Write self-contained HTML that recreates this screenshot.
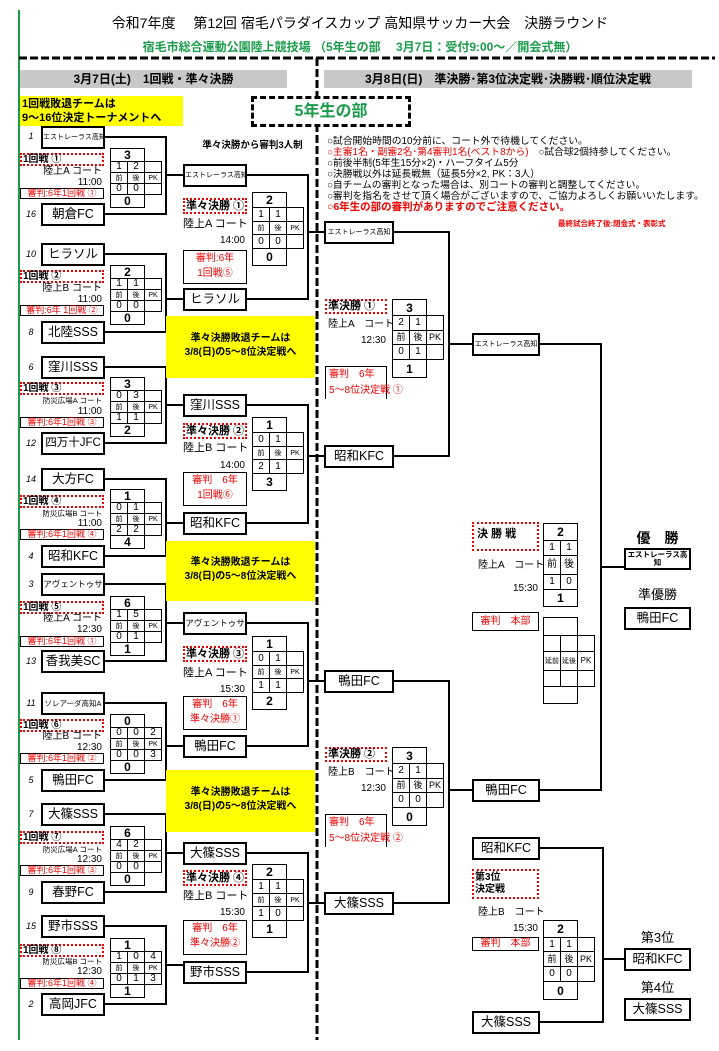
<!DOCTYPE html>
<html><head><meta charset="utf-8">
<style>
*{margin:0;padding:0;box-sizing:border-box}
body{width:719px;height:1051px;background:#fff;position:relative;overflow:hidden;font-family:"Liberation Sans","Noto Sans CJK JP",sans-serif;color:#000}
div{position:absolute}
.t{border:2px solid #000;background:#fff;text-align:center;font-size:12.5px;height:23px;line-height:19px;white-space:nowrap;overflow:hidden}
.sm{font-size:7px}
.sd{font-size:9px;font-style:italic;width:14px;text-align:center}
.lb{border:2px dotted #e00;font-weight:bold;font-size:10px;line-height:9px;height:13px;padding-left:1px;white-space:nowrap;background:#fff}
.ct{font-size:10px;line-height:11px;text-align:right;white-space:nowrap}
.cs{font-size:7.5px;line-height:9px;text-align:right;white-space:nowrap}
.rf{border:1px solid #000;color:#e00;font-size:9px;text-align:center;white-space:nowrap;line-height:9px;height:11px}
.rq{border:1px solid #000;color:#e00;font-size:10px;text-align:center;line-height:15px}
table{position:absolute;border-collapse:collapse}
td{border:1px solid #000;width:17px;text-align:center;font-size:10px;padding:0;line-height:1;background:#fff}
td.n{border:none;background:transparent}
td.b{font-weight:bold;font-size:12px}
td.s{font-size:7px}
.yel{background:#ff0;font-weight:bold;font-size:10px;text-align:center;line-height:14px}
.gray{background:#c8c8c8;font-weight:bold;font-size:12px;text-align:center;line-height:18px;height:18px}
.info{font-size:9.8px;line-height:11px;white-space:nowrap}
.cr{font-size:10px;line-height:11px;white-space:nowrap}
</style></head><body>
<svg width="719" height="1051" style="position:absolute;left:0;top:0">
<line x1="19" y1="10" x2="19" y2="1040" stroke="#1a9b4b" stroke-width="2"/>
<line x1="19" y1="58" x2="715" y2="58" stroke="#000" stroke-width="3" stroke-dasharray="8 3"/>
<line x1="317" y1="58" x2="317" y2="1040" stroke="#000" stroke-width="3" stroke-dasharray="8 3"/>
<g stroke="#000" stroke-width="2" fill="none">
<path d="M104 137H166V214H104M166 175H183"/>
<path d="M104 254H166V332H104M166 299H183"/>
<path d="M104 367H166V443H104M166 405H183"/>
<path d="M104 479H166V556H104M166 523H183"/>
<path d="M104 584H166V661H104M166 623H183"/>
<path d="M104 703H166V780H104M166 746H183"/>
<path d="M104 814H166V892H104M166 853H183"/>
<path d="M104 926H166V1004H104M166 965H183"/>
<path d="M247 175H308V299H247M308 232H324"/>
<path d="M247 405H308V523H247M308 456H324"/>
<path d="M247 623H308V746H247M308 681H324"/>
<path d="M247 853H308V972H247M308 903H324"/>
<path d="M393 232H449V456H393M449 344H472"/>
<path d="M393 681H449V903H393M449 790H472"/>
<path d="M540 344H601V790H540M601 567H624"/>
<path d="M540 848H603V1022H540M603 959H624"/>
</g>
</svg>

<div style="left:100px;top:13px;width:520px;font-size:14px;text-align:center;white-space:nowrap">令和7年度　 第12回 宿毛パラダイスカップ 高知県サッカー大会　決勝ラウンド</div>
<div style="left:100px;top:38px;width:520px;font-size:12px;font-weight:bold;color:#1a9b4b;text-align:center;white-space:nowrap">宿毛市総合運動公園陸上競技場 （5年生の部　 3月7日：受付9:00～／開会式無）</div>
<div class="gray" style="left:20px;top:70px;width:267px">3月7日(土)　1回戦・準々決勝</div>
<div class="gray" style="left:324px;top:70px;width:368px">3月8日(日)　準決勝･第3位決定戦･決勝戦･順位決定戦</div>
<div class="yel" style="left:20px;top:96px;width:163px;height:30px;text-align:left;font-size:11px;line-height:14px;padding:1px 2px">1回戦敗退チームは<br>9～16位決定トーナメントへ</div>
<div style="left:251px;top:96px;width:160px;height:31px;border:3px dashed #000;background:#fff;color:#1a9b4b;font-weight:bold;font-size:16px;text-align:center;line-height:25px">5年生の部</div>
<div style="left:190px;top:137px;width:125px;font-size:9.5px;font-weight:bold;text-align:center;white-space:nowrap">準々決勝から審判3人制</div>
<div class="info" style="left:327px;top:136px">○試合開始時間の10分前に、コート外で待機してください。<br><span style="color:#e00">○主審1名・副審2名･第4審判1名(ベスト8から)</span>　○試合球2個持参してください。<br>○前後半制(5年生15分×2)・ハーフタイム5分<br>○決勝戦以外は延長戦無（延長5分×2, PK：3人）<br>○自チームの審判となった場合は、別コートの審判と調整してください。<br>○審判を指名をさせて頂く場合がございますので、ご協力よろしくお願いいたします。<br><b style="color:#e00;font-size:10.5px">○6年生の部の審判がありますのでご注意ください。</b></div>
<div style="left:558px;top:218px;font-size:7.5px;font-weight:bold;color:#e00;white-space:nowrap">最終試合終了後:閉会式・表彰式</div>

<div class="yel" style="left:166px;top:316px;width:149px;height:62px;padding-top:16px">準々決勝敗退チームは<br>3/8(日)の5～8位決定戦へ</div>
<div class="yel" style="left:166px;top:541px;width:149px;height:60px;padding-top:15px">準々決勝敗退チームは<br>3/8(日)の5～8位決定戦へ</div>
<div class="yel" style="left:166px;top:770px;width:149px;height:62px;padding-top:16px">準々決勝敗退チームは<br>3/8(日)の5～8位決定戦へ</div>

<!-- R1 teams -->
<div class="sd" style="left:24px;top:131px">1</div><div class="t sm" style="left:41px;top:126px;width:64px">エストレーラス高知</div>
<div class="sd" style="left:24px;top:209px">16</div><div class="t" style="left:41px;top:203px;width:64px">朝倉FC</div>
<div class="sd" style="left:24px;top:249px">10</div><div class="t" style="left:41px;top:243px;width:64px">ヒラソル</div>
<div class="sd" style="left:24px;top:327px">8</div><div class="t" style="left:41px;top:321px;width:64px">北陸SSS</div>
<div class="sd" style="left:24px;top:362px">6</div><div class="t" style="left:41px;top:356px;width:64px">窪川SSS</div>
<div class="sd" style="left:24px;top:438px">12</div><div class="t" style="left:41px;top:432px;width:64px;font-size:11.5px">四万十JFC</div>
<div class="sd" style="left:24px;top:474px">14</div><div class="t" style="left:41px;top:468px;width:64px">大方FC</div>
<div class="sd" style="left:24px;top:551px">4</div><div class="t" style="left:41px;top:545px;width:64px">昭和KFC</div>
<div class="sd" style="left:24px;top:579px">3</div><div class="t" style="left:41px;top:573px;width:64px;font-size:8.5px">アヴェントゥサ</div>
<div class="sd" style="left:24px;top:656px">13</div><div class="t" style="left:41px;top:650px;width:64px">香我美SC</div>
<div class="sd" style="left:24px;top:698px">11</div><div class="t" style="left:41px;top:692px;width:64px;font-size:7.5px">ソレアーダ高知A</div>
<div class="sd" style="left:24px;top:775px">5</div><div class="t" style="left:41px;top:769px;width:64px">鴨田FC</div>
<div class="sd" style="left:24px;top:809px">7</div><div class="t" style="left:41px;top:803px;width:64px">大篠SSS</div>
<div class="sd" style="left:24px;top:887px">9</div><div class="t" style="left:41px;top:881px;width:64px">春野FC</div>
<div class="sd" style="left:24px;top:921px">15</div><div class="t" style="left:41px;top:915px;width:64px">野市SSS</div>
<div class="sd" style="left:24px;top:999px">2</div><div class="t" style="left:41px;top:993px;width:64px">高岡JFC</div>

<!-- R1 labels -->
<div class="lb" style="left:20px;top:153px;width:84px">1回戦 ①</div><div class="ct" style="left:20px;top:166px;width:82px">陸上A コート</div><div class="ct" style="left:20px;top:177px;width:82px">11:00</div><div class="rf" style="left:20px;top:188px;width:84px">審判:6年1回戦 ①</div>
<div class="lb" style="left:20px;top:270px;width:84px">1回戦 ②</div><div class="ct" style="left:20px;top:283px;width:82px">陸上B コート</div><div class="ct" style="left:20px;top:294px;width:82px">11:00</div><div class="rf" style="left:20px;top:305px;width:84px">審判:6年 1回戦 ②</div>
<div class="lb" style="left:20px;top:382px;width:84px">1回戦 ③</div><div class="cs" style="left:20px;top:396px;width:82px">防災広場A コート</div><div class="ct" style="left:20px;top:406px;width:82px">11:00</div><div class="rf" style="left:20px;top:417px;width:84px">審判:6年1回戦 ③</div>
<div class="lb" style="left:20px;top:495px;width:84px">1回戦 ④</div><div class="cs" style="left:20px;top:509px;width:82px">防災広場B コート</div><div class="ct" style="left:20px;top:518px;width:82px">11:00</div><div class="rf" style="left:20px;top:529px;width:84px">審判:6年1回戦 ④</div>
<div class="lb" style="left:20px;top:601px;width:84px">1回戦 ⑤</div><div class="ct" style="left:20px;top:613px;width:82px">陸上A コート</div><div class="ct" style="left:20px;top:624px;width:82px">12:30</div><div class="rf" style="left:20px;top:636px;width:84px">審判:6年1回戦 ①</div>
<div class="lb" style="left:20px;top:719px;width:84px">1回戦 ⑥</div><div class="ct" style="left:20px;top:731px;width:82px">陸上B コート</div><div class="ct" style="left:20px;top:742px;width:82px">12:30</div><div class="rf" style="left:20px;top:753px;width:84px">審判:6年1回戦 ②</div>
<div class="lb" style="left:20px;top:831px;width:84px">1回戦 ⑦</div><div class="cs" style="left:20px;top:845px;width:82px">防災広場A コート</div><div class="ct" style="left:20px;top:854px;width:82px">12:30</div><div class="rf" style="left:20px;top:865px;width:84px">審判:6年1回戦 ③</div>
<div class="lb" style="left:20px;top:944px;width:84px">1回戦 ⑧</div><div class="cs" style="left:20px;top:957px;width:82px">防災広場B コート</div><div class="ct" style="left:20px;top:966px;width:82px">12:30</div><div class="rf" style="left:20px;top:978px;width:84px">審判:6年1回戦 ④</div>

<!-- R1 grids -->
<table style="left:110px;top:148px"><tr style="height:12px"><td colspan=2 class="b">3</td><td class="n"></td></tr><tr style="height:11px"><td>1</td><td>2</td><td></td></tr><tr style="height:11px"><td class="s">前</td><td class="s">後</td><td class="s">PK</td></tr><tr style="height:11px"><td>0</td><td>0</td><td></td></tr><tr style="height:12px"><td colspan=2 class="b">0</td><td class="n"></td></tr></table>
<table style="left:110px;top:265px"><tr style="height:12px"><td colspan=2 class="b">2</td><td class="n"></td></tr><tr style="height:11px"><td>1</td><td>1</td><td></td></tr><tr style="height:11px"><td class="s">前</td><td class="s">後</td><td class="s">PK</td></tr><tr style="height:11px"><td>0</td><td>0</td><td></td></tr><tr style="height:12px"><td colspan=2 class="b">0</td><td class="n"></td></tr></table>
<table style="left:110px;top:377px"><tr style="height:12px"><td colspan=2 class="b">3</td><td class="n"></td></tr><tr style="height:11px"><td>0</td><td>3</td><td></td></tr><tr style="height:11px"><td class="s">前</td><td class="s">後</td><td class="s">PK</td></tr><tr style="height:11px"><td>1</td><td>1</td><td></td></tr><tr style="height:12px"><td colspan=2 class="b">2</td><td class="n"></td></tr></table>
<table style="left:110px;top:489px"><tr style="height:12px"><td colspan=2 class="b">1</td><td class="n"></td></tr><tr style="height:11px"><td>0</td><td>1</td><td></td></tr><tr style="height:11px"><td class="s">前</td><td class="s">後</td><td class="s">PK</td></tr><tr style="height:11px"><td>2</td><td>2</td><td></td></tr><tr style="height:12px"><td colspan=2 class="b">4</td><td class="n"></td></tr></table>
<table style="left:110px;top:596px"><tr style="height:12px"><td colspan=2 class="b">6</td><td class="n"></td></tr><tr style="height:11px"><td>1</td><td>5</td><td></td></tr><tr style="height:11px"><td class="s">前</td><td class="s">後</td><td class="s">PK</td></tr><tr style="height:11px"><td>0</td><td>1</td><td></td></tr><tr style="height:12px"><td colspan=2 class="b">1</td><td class="n"></td></tr></table>
<table style="left:110px;top:714px"><tr style="height:12px"><td colspan=2 class="b">0</td><td class="n"></td></tr><tr style="height:11px"><td>0</td><td>0</td><td>2</td></tr><tr style="height:11px"><td class="s">前</td><td class="s">後</td><td class="s">PK</td></tr><tr style="height:11px"><td>0</td><td>0</td><td>3</td></tr><tr style="height:12px"><td colspan=2 class="b">0</td><td class="n"></td></tr></table>
<table style="left:110px;top:826px"><tr style="height:12px"><td colspan=2 class="b">6</td><td class="n"></td></tr><tr style="height:11px"><td>4</td><td>2</td><td></td></tr><tr style="height:11px"><td class="s">前</td><td class="s">後</td><td class="s">PK</td></tr><tr style="height:11px"><td>0</td><td>0</td><td></td></tr><tr style="height:12px"><td colspan=2 class="b">0</td><td class="n"></td></tr></table>
<table style="left:110px;top:938px"><tr style="height:12px"><td colspan=2 class="b">1</td><td class="n"></td></tr><tr style="height:11px"><td>1</td><td>0</td><td>4</td></tr><tr style="height:11px"><td class="s">前</td><td class="s">後</td><td class="s">PK</td></tr><tr style="height:11px"><td>0</td><td>1</td><td>3</td></tr><tr style="height:12px"><td colspan=2 class="b">1</td><td class="n"></td></tr></table>

<!-- QF teams -->
<div class="t sm" style="left:183px;top:164px;width:64px">エストレーラス高知</div>
<div class="t" style="left:183px;top:288px;width:64px">ヒラソル</div>
<div class="t" style="left:183px;top:394px;width:64px">窪川SSS</div>
<div class="t" style="left:183px;top:512px;width:64px">昭和KFC</div>
<div class="t" style="left:183px;top:612px;width:64px;font-size:8.5px">アヴェントゥサ</div>
<div class="t" style="left:183px;top:735px;width:64px">鴨田FC</div>
<div class="t" style="left:183px;top:842px;width:64px">大篠SSS</div>
<div class="t" style="left:183px;top:961px;width:64px">野市SSS</div>

<!-- QF labels -->
<div class="lb" style="left:183px;top:198px;width:64px;height:16px;line-height:12px;font-size:11px">準々決勝 ①</div><div class="ct" style="left:183px;top:218px;width:64px;font-size:11px;line-height:12px">陸上A コート</div><div class="ct" style="left:183px;top:235px;width:62px">14:00</div><div class="rq" style="left:183px;top:250px;width:64px;height:34px">審判:6年<br>1回戦⑤</div>
<div class="lb" style="left:183px;top:423px;width:64px;height:16px;line-height:12px;font-size:11px">準々決勝 ②</div><div class="ct" style="left:183px;top:442px;width:64px;font-size:11px;line-height:12px">陸上B コート</div><div class="ct" style="left:183px;top:460px;width:62px">14:00</div><div class="rq" style="left:183px;top:472px;width:64px;height:34px">審判　6年<br>1回戦⑥</div>
<div class="lb" style="left:183px;top:646px;width:64px;height:16px;line-height:12px;font-size:11px">準々決勝 ③</div><div class="ct" style="left:183px;top:667px;width:64px;font-size:11px;line-height:12px">陸上A コート</div><div class="ct" style="left:183px;top:684px;width:62px">15:30</div><div class="rq" style="left:183px;top:696px;width:64px;height:34px">審判　6年<br>準々決勝①</div>
<div class="lb" style="left:183px;top:870px;width:64px;height:16px;line-height:12px;font-size:11px">準々決勝 ④</div><div class="ct" style="left:183px;top:890px;width:64px;font-size:11px;line-height:12px">陸上B コート</div><div class="ct" style="left:183px;top:907px;width:62px">15:30</div><div class="rq" style="left:183px;top:920px;width:64px;height:35px">審判　6年<br>準々決勝②</div>

<!-- QF grids -->
<table style="left:252px;top:192px"><tr style="height:15px"><td colspan=2 class="b">2</td><td class="n"></td></tr><tr style="height:14px"><td>1</td><td>1</td><td></td></tr><tr style="height:13px"><td class="s">前</td><td class="s">後</td><td class="s">PK</td></tr><tr style="height:14px"><td>0</td><td>0</td><td></td></tr><tr style="height:17px"><td colspan=2 class="b">0</td><td class="n"></td></tr></table>
<table style="left:252px;top:417px"><tr style="height:15px"><td colspan=2 class="b">1</td><td class="n"></td></tr><tr style="height:14px"><td>0</td><td>1</td><td></td></tr><tr style="height:13px"><td class="s">前</td><td class="s">後</td><td class="s">PK</td></tr><tr style="height:14px"><td>2</td><td>1</td><td></td></tr><tr style="height:17px"><td colspan=2 class="b">3</td><td class="n"></td></tr></table>
<table style="left:252px;top:636px"><tr style="height:15px"><td colspan=2 class="b">1</td><td class="n"></td></tr><tr style="height:14px"><td>0</td><td>1</td><td></td></tr><tr style="height:13px"><td class="s">前</td><td class="s">後</td><td class="s">PK</td></tr><tr style="height:14px"><td>1</td><td>1</td><td></td></tr><tr style="height:17px"><td colspan=2 class="b">2</td><td class="n"></td></tr></table>
<table style="left:252px;top:864px"><tr style="height:15px"><td colspan=2 class="b">2</td><td class="n"></td></tr><tr style="height:14px"><td>1</td><td>1</td><td></td></tr><tr style="height:13px"><td class="s">前</td><td class="s">後</td><td class="s">PK</td></tr><tr style="height:14px"><td>1</td><td>0</td><td></td></tr><tr style="height:17px"><td colspan=2 class="b">1</td><td class="n"></td></tr></table>

<!-- SF -->
<div class="t sm" style="left:324px;top:221px;width:70px">エストレーラス高知</div>
<div class="t" style="left:324px;top:445px;width:70px">昭和KFC</div>
<div class="t" style="left:324px;top:670px;width:70px">鴨田FC</div>
<div class="t" style="left:324px;top:892px;width:70px">大篠SSS</div>
<div class="lb" style="left:325px;top:299px;width:62px;height:15px;line-height:11px;font-size:11px">準決勝 ①</div><div class="cr" style="left:328px;top:319px">陸上A　コート</div><div class="ct" style="left:324px;top:335px;width:62px">12:30</div>
<div style="left:325px;top:366px;width:62px;height:33px;border-left:1px solid #000;border-top:1px solid #000;border-right:1px solid #000;color:#e00;font-size:10px;line-height:16px;padding-left:3px;white-space:nowrap">審判　6年<br>5～8位決定戦 ①</div>
<div class="lb" style="left:325px;top:747px;width:62px;height:15px;line-height:11px;font-size:11px">準決勝 ②</div><div class="cr" style="left:328px;top:767px">陸上B　コート</div><div class="ct" style="left:324px;top:783px;width:62px">12:30</div>
<div style="left:325px;top:814px;width:62px;height:33px;border-left:1px solid #000;border-top:1px solid #000;border-right:1px solid #000;color:#e00;font-size:10px;line-height:16px;padding-left:3px;white-space:nowrap">審判　6年<br>5～8位決定戦 ②</div>
<table style="left:392px;top:299px"><tr style="height:16px"><td colspan=2 class="b">3</td><td class="n"></td></tr><tr style="height:15px"><td>2</td><td>1</td><td></td></tr><tr style="height:14px"><td style="font-size:9px">前</td><td style="font-size:9px">後</td><td style="font-size:9px">PK</td></tr><tr style="height:15px"><td>0</td><td>1</td><td></td></tr><tr style="height:18px"><td colspan=2 class="b">1</td><td class="n"></td></tr></table>
<table style="left:392px;top:747px"><tr style="height:16px"><td colspan=2 class="b">3</td><td class="n"></td></tr><tr style="height:15px"><td>2</td><td>1</td><td></td></tr><tr style="height:14px"><td style="font-size:9px">前</td><td style="font-size:9px">後</td><td style="font-size:9px">PK</td></tr><tr style="height:15px"><td>0</td><td>0</td><td></td></tr><tr style="height:18px"><td colspan=2 class="b">0</td><td class="n"></td></tr></table>

<!-- Final -->
<div class="t sm" style="left:472px;top:333px;width:68px">エストレーラス高知</div>
<div class="t" style="left:472px;top:779px;width:68px">鴨田FC</div>
<div class="lb" style="left:472px;top:522px;width:67px;height:29px;font-size:11px;line-height:20px;padding-left:3px">決 勝 戦</div>
<div class="cr" style="left:478px;top:560px">陸上A　コート</div>
<div class="ct" style="left:472px;top:583px;width:66px">15:30</div>
<div class="rf" style="left:472px;top:612px;width:67px;height:19px;line-height:17px;font-size:10px">審判　本部</div>
<table style="left:543px;top:523px"><tr style="height:17px"><td colspan=2 class="b">2</td></tr><tr style="height:15px"><td>1</td><td>1</td></tr><tr style="height:19px"><td style="font-size:10px">前</td><td style="font-size:10px">後</td></tr><tr style="height:15px"><td>1</td><td>0</td></tr><tr style="height:17px"><td colspan=2 class="b">1</td></tr></table>
<table style="left:543px;top:617px"><tr style="height:18px"><td colspan=2></td><td class="n"></td></tr><tr style="height:16px"><td></td><td></td><td></td></tr><tr style="height:19px"><td class="s">延前</td><td class="s">延後</td><td style="font-size:8px">PK</td></tr><tr style="height:16px"><td></td><td></td><td></td></tr><tr style="height:17px"><td colspan=2></td><td class="n"></td></tr></table>
<div style="left:624px;top:528px;width:67px;text-align:center;font-weight:bold;font-size:14px">優　勝</div>
<div class="t" style="left:624px;top:548px;width:67px;height:22px;font-size:7.5px;font-weight:bold;line-height:8px;white-space:normal;padding-top:1px">エストレーラス高知</div>
<div style="left:624px;top:584px;width:67px;text-align:center;font-size:13px">準優勝</div>
<div class="t" style="left:624px;top:607px;width:67px">鴨田FC</div>

<!-- 3rd place -->
<div class="t" style="left:472px;top:837px;width:68px">昭和KFC</div>
<div class="t" style="left:472px;top:1011px;width:68px">大篠SSS</div>
<div class="lb" style="left:472px;top:869px;width:67px;height:30px;font-size:10px;line-height:12px;padding-top:1px">第3位<br>決定戦</div>
<div class="cr" style="left:478px;top:907px">陸上B　コート</div>
<div class="ct" style="left:472px;top:923px;width:66px">15:30</div>
<div class="rf" style="left:472px;top:937px;width:67px;height:14px;line-height:12px;font-size:10px">審判　本部</div>
<table style="left:543px;top:920px"><tr style="height:17px"><td colspan=2 class="b">2</td><td class="n"></td></tr><tr style="height:14px"><td>1</td><td>1</td><td></td></tr><tr style="height:15px"><td style="font-size:9px">前</td><td style="font-size:9px">後</td><td style="font-size:9px">PK</td></tr><tr style="height:15px"><td>0</td><td>0</td><td></td></tr><tr style="height:18px"><td colspan=2 class="b">0</td><td class="n"></td></tr></table>
<div style="left:624px;top:927px;width:67px;text-align:center;font-size:13px">第3位</div>
<div class="t" style="left:624px;top:948px;width:67px">昭和KFC</div>
<div style="left:624px;top:977px;width:67px;text-align:center;font-size:13px">第4位</div>
<div class="t" style="left:624px;top:998px;width:67px">大篠SSS</div>
</body></html>
